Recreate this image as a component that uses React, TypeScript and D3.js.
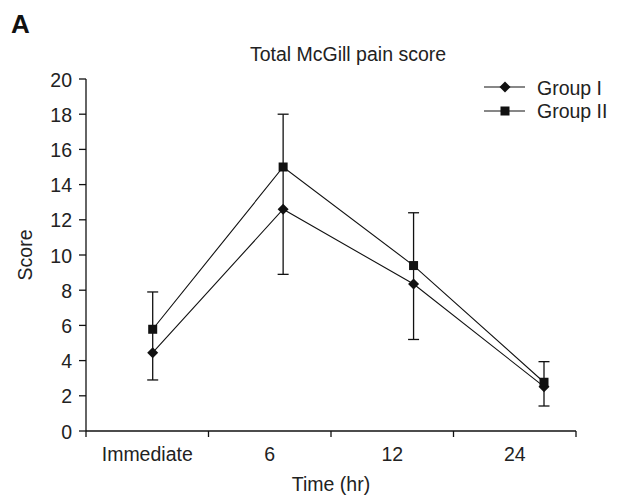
import React from "react";
import * as d3 from "d3";

const categories = ["Immediate", "6", "12", "24"];
const groupI = [4.45, 12.6, 8.35, 2.52];
const groupII = [5.78, 15.0, 9.4, 2.77];
const errUpper = [7.9, 18.0, 12.4, 3.94];
const errLower = [2.9, 8.9, 5.2, 1.42];
const yTicks = [0, 2, 4, 6, 8, 10, 12, 14, 16, 18, 20];

const W = 617;
const H = 499;
const font = "Liberation Sans, Arial, sans-serif";
const fs = 19.5;

export default function App() {
  // axis frame
  const x = d3.scaleBand().domain(categories).range([86, 576]);
  // markers sit a bit off the band centres in the original figure
  const xp = d3.scalePoint().domain(categories).range([152.7, 544]);
  const y = d3.scaleLinear().domain([0, 20]).range([431, 79]);

  const line = d3
    .line<number>()
    .x((_, i) => xp(categories[i]) as number)
    .y((d) => y(d));

  const diamond = (cx: number, cy: number, r = 5.5) =>
    `M${cx},${cy - r}L${cx + r},${cy}L${cx},${cy + r}L${cx - r},${cy}Z`;

  const tickEdges = [...categories.map((c) => x(c) as number), 576];

  return (
    <svg width={W} height={H} style={{ position: "absolute", left: 0, top: 0 }}>
      <rect width={W} height={H} fill="#fff" />
      <text x={11} y={33} fontFamily={font} fontWeight="bold" fontSize={26} fill="#111">
        A
      </text>
      <text x={348} y={61} fontFamily={font} fontSize={fs} textAnchor="middle" fill="#222">
        Total McGill pain score
      </text>

      {/* y axis */}
      <line x1={86} x2={86} y1={y(20)} y2={y(0)} stroke="#111" strokeWidth={1.3} />
      {yTicks.map((t) => (
        <g key={t}>
          <line x1={79} x2={86} y1={y(t)} y2={y(t)} stroke="#111" strokeWidth={1.3} />
          <text x={72} y={y(t) + 7.5} fontFamily={font} fontSize={fs} textAnchor="end" fill="#222">
            {t}
          </text>
        </g>
      ))}
      <text
        transform={`translate(32,255) rotate(-90)`}
        fontFamily={font}
        fontSize={fs}
        textAnchor="middle"
        fill="#222"
      >
        Score
      </text>

      {/* x axis */}
      <line x1={86} x2={576} y1={y(0)} y2={y(0)} stroke="#111" strokeWidth={1.3} />
      {tickEdges.map((tx, i) => (
        <line key={i} x1={tx} x2={tx} y1={y(0)} y2={y(0) + 6} stroke="#111" strokeWidth={1.3} />
      ))}
      {categories.map((c) => (
        <text
          key={c}
          x={(x(c) as number) + x.bandwidth() / 2}
          y={461}
          fontFamily={font}
          fontSize={fs}
          textAnchor="middle"
          fill="#222"
        >
          {c}
        </text>
      ))}
      <text x={331} y={491} fontFamily={font} fontSize={fs} textAnchor="middle" fill="#222">
        Time (hr)
      </text>

      {/* error bars */}
      {categories.map((c, i) => {
        const cx = xp(c) as number;
        return (
          <g key={c} stroke="#111" strokeWidth={1.3}>
            <line x1={cx} x2={cx} y1={y(errUpper[i])} y2={y(errLower[i])} />
            <line x1={cx - 5.5} x2={cx + 5.5} y1={y(errUpper[i])} y2={y(errUpper[i])} />
            <line x1={cx - 5.5} x2={cx + 5.5} y1={y(errLower[i])} y2={y(errLower[i])} />
          </g>
        );
      })}

      {/* series */}
      <path d={line(groupI) ?? ""} fill="none" stroke="#111" strokeWidth={1.1} />
      <path d={line(groupII) ?? ""} fill="none" stroke="#111" strokeWidth={1.1} />
      {groupI.map((v, i) => (
        <path key={"a" + i} d={diamond(xp(categories[i]) as number, y(v))} fill="#111" />
      ))}
      {groupII.map((v, i) => (
        <rect
          key={"b" + i}
          x={(xp(categories[i]) as number) - 4.5}
          y={y(v) - 4.5}
          width={9}
          height={9}
          fill="#111"
        />
      ))}

      {/* legend */}
      <g>
        <line x1={484} x2={525} y1={87} y2={87} stroke="#111" strokeWidth={1.1} />
        <path d={diamond(505, 87)} fill="#111" />
        <text x={537} y={94.5} fontFamily={font} fontSize={fs} fill="#222">
          Group I
        </text>
        <line x1={484} x2={525} y1={111} y2={111} stroke="#111" strokeWidth={1.1} />
        <rect x={500.5} y={106.5} width={9} height={9} fill="#111" />
        <text x={537} y={118} fontFamily={font} fontSize={fs} fill="#222">
          Group II
        </text>
      </g>
    </svg>
  );
}
